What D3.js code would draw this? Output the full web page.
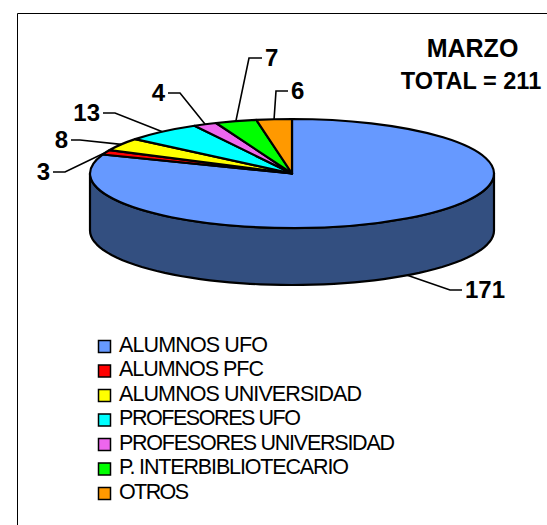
<!DOCTYPE html>
<html><head><meta charset="utf-8">
<script src="https://cdnjs.cloudflare.com/ajax/libs/d3/7.8.5/d3.min.js"></script>
<style>html,body{margin:0;padding:0;background:#fff}svg{display:block}text{font-family:"Liberation Sans",Arial,sans-serif;fill:#000}</style>
</head><body><div id="c"></div>
<script>
const categories=["ALUMNOS UFO","ALUMNOS PFC","ALUMNOS UNIVERSIDAD","PROFESORES UFO","PROFESORES UNIVERSIDAD","P. INTERBIBLIOTECARIO","OTROS"];
const values=[171,3,8,13,4,7,6];
const colors=["#6699FF","#FF0000","#FFFF00","#00FFFF","#EE66EE","#00FF00","#FF9900"];
const sideColor="#334F80";
const titleLines=["MARZO","TOTAL = 211"];
// label layout, one entry per slice: elbow of the leader line and text position
const elbows=[[450,290],[65,172],[80,140],[115,113],[180,93],[249,58],[276,91]];
const labelEnds=[[462,290],[53,172],[71,140],[103,113],[168,93],[262,58],[288,91]];
const legendWidths=[149,145,243,182,276,230,70];
const W=547,H=525,cx=292,cy=173.5,rx=202,ry=54.5,depth=57;
const svg=d3.select("#c").append("svg").attr("width",W).attr("height",H);
svg.append("rect").attr("width",W).attr("height",H).attr("fill","#fff");
// frame
svg.append("path").attr("d",`M17.5,${H}V13.5H${W}`).attr("fill","none").attr("stroke","#000").attr("stroke-width",1);
const pie=d3.pie().sort(null).value(d=>d).startAngle(0).endAngle(2*Math.PI);
const arcs=pie(values);
const px=a=>cx+rx*Math.sin(a), py=a=>cy-ry*Math.cos(a);
// side wall
const front=d3.range(0,181,3).map(d=>(90+d)*Math.PI/180);
const sidePts=[...front.map(a=>[px(a),py(a)]),...front.slice().reverse().map(a=>[px(a),py(a)+depth])];
svg.append("path").attr("d",d3.line()(sidePts)+"Z").attr("fill",sideColor).attr("stroke","#000").attr("stroke-width",2.2).attr("stroke-linejoin","round");
// top slices
const arcGen=d3.arc().innerRadius(0).outerRadius(rx);
const topFace=svg.append("g").attr("transform",`translate(${cx},${cy}) scale(1,${ry/rx})`);
topFace.selectAll("path").data(arcs).join("path").attr("d",arcGen).attr("fill",(d,i)=>colors[i])
 .attr("stroke","#000").attr("stroke-width",2.2).attr("stroke-linejoin","round").attr("vector-effect","non-scaling-stroke");
// leaders
arcs.forEach((d,i)=>{
 const m=(d.startAngle+d.endAngle)/2;
 let ax=px(m),ay=py(m);
 if(m>Math.PI/2&&m<3*Math.PI/2) ay+=depth;
 svg.append("path").attr("d",d3.line()([[ax,ay],elbows[i],labelEnds[i]])).attr("fill","none").attr("stroke","#000").attr("stroke-width",1.6);
 const left=labelEnds[i][0]<elbows[i][0];
 svg.append("text").attr("x",labelEnds[i][0]+(left?-3:3)).attr("y",labelEnds[i][1]+8)
  .attr("text-anchor",left?"end":"start").attr("font-size",24).attr("font-weight","bold").text(d.data);
});
// title
svg.append("text").attr("x",472.5).attr("y",57).attr("text-anchor","middle").attr("font-size",25).attr("font-weight","bold").text(titleLines[0]);
svg.append("text").attr("x",471).attr("y",89).attr("text-anchor","middle").attr("font-size",23.5).attr("font-weight","bold").text(titleLines[1]);
// legend
const ly=d3.scalePoint().domain(categories).range([346,493]);
const lg=svg.append("g").selectAll("g").data(categories).join("g");
lg.append("rect").attr("x",98.5).attr("y",d=>ly(d)-5.5).attr("width",12).attr("height",12).attr("fill",(d,i)=>colors[i]).attr("stroke","#000").attr("stroke-width",1.5);
lg.append("text").attr("x",119).attr("y",d=>ly(d)+5.5).attr("font-size",21.5).attr("textLength",(d,i)=>legendWidths[i]).attr("lengthAdjust","spacing").text(d=>d);
</script></body></html>
